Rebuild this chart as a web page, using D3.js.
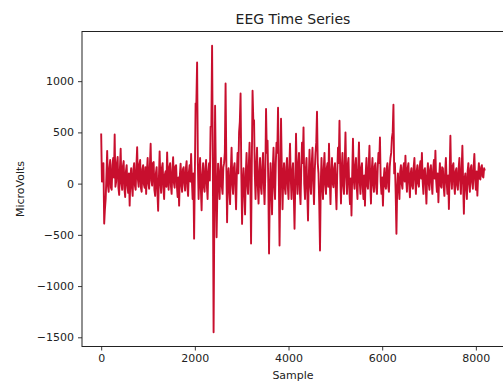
<!DOCTYPE html>
<html>
<head>
<meta charset="utf-8">
<script src="https://cdn.jsdelivr.net/npm/d3@7"></script>
<style>
  html, body { margin: 0; padding: 0; background: #fff; }
  svg { display: block; }
  text { font-family: "DejaVu Sans", sans-serif; fill: #222; }
</style>
</head>
<body>
<svg id="chart" width="503" height="381"></svg>
<script>
// ---- data ----
const title = "EEG Time Series";
const xLabel = "Sample";
const yLabel = "MicroVolts";
const sampleStep = 16;        // one reading every 16 samples
const lastSample = 8191;
const microvolts = [
  490, 20, 100, 200, -390, -250, -150, 80, 320, -20, -80, 150, 230, -40, -60, 180, 250, 60, 480, -30,
  20, 200, 260, -40, -110, 150, 340, 0, -60, 170, 220, -50, -130, 120, 180, -20, -90, 100, -215, 60,
  150, -30, -120, 140, 200, -20, -60, 170, 355, 40, -30, 190, 230, -40, -80, 140, 180, -10, -40, 160,
  -100, 120, 250, 0, -50, 180, 390, 30, -20, 200, 210, -60, -120, 100, 160, -80, -265, 50, 315, 20,
  -90, 150, 200, -40, -150, 90, 120, -30, 305, 50, -60, 160, 200, -20, -100, 130, 257, 10, -40, 170,
  180, -20, -130, 60, -215, 80, 195, -10, -80, 140, 160, 0, -68, 150, 220, -30, -120, 110, 180, 20,
  290, 40, -150, 100, -537, 100, 783, 790, 1183, 200, -150, 100, 250, -50, -260, 80, 200, -30, -80, 150,
  230, -20, -150, 120, 200, 30, 555, 560, 1345, 200, -1450, -300, 760, 100, -523, -100, 195, 20, -150, 130,
  250, -30, -100, 160, 200, 300, 978, 200, -377, 50, 150, -60, -200, 120, 350, 0, -100, 150, 200, -20,
  -250, 100, 300, 100, 500, 600, 880, 100, -393, 0, 150, -80, -300, 100, 300, 0, -100, 180, 400, 50,
  -585, 200, 907, 620, 620, 100, -150, 150, 350, -20, -195, 100, 250, -30, -100, 160, 300, 0, -200, 80,
  730, 300, 420, 0, -683, -100, 200, -50, -300, 150, 350, -20, -150, 200, 400, 300, 740, 100, -605, 0,
  634, 150, -250, 80, 200, -40, -100, 160, 250, -20, -150, 150, 390, 50, -150, 120, 200, -100, -440, 0,
  487, 100, -100, 180, 300, -60, -200, 150, 400, 200, 549, 0, -150, 130, 250, -80, -360, 50, 330, 0,
  -100, 200, 350, 20, -200, 120, 300, 400, 702, 200, 100, -200, -653, 0, 250, -20, -150, 150, 300, -10,
  -100, 150, 200, -30, 390, 50, -200, 100, 250, 0, -36, 150, 200, -60, -250, 100, 350, 200, 614, 100,
  -195, 150, 300, -20, -100, 200, 500, 80, -100, 180, 250, -40, -200, 50, -312, 100, 439, 40, -50, 170,
  250, -30, -150, 150, 403, 20, -100, 150, 200, -40, -150, 80, -215, 100, 250, -20, -50, 180, 370, 30,
  -195, 120, 250, -10, -80, 170, 200, -40, -100, 150, 300, 200, 451, 20, -100, 60, -215, 50, 150, -20,
  -50, 150, 200, -30, -80, 160, 250, 300, 450, 500, 770, 100, 200, -100, -490, -50, 100, -30, -150, 120,
  180, 0, -50, 150, 200, 20, 273, 50, -80, 150, 200, 0, -133, 100, 150, -20, -50, 160, 250, 30,
  -100, 120, 180, 0, -30, 160, 220, 50, 300, 20, -100, 130, 150, -10, -195, 80, 200, 10, -60, 140,
  180, 0, -100, 140, 230, 50, 322, 30, -80, 100, -182, 60, 200, -20, -40, 160, 150, -30, -120, 110,
  250, 20, -100, 80, -247, 100, 468, 60, -50, 170, 200, -10, -100, 120, 150, -20, -60, 150, 250, 30,
  -100, 140, 370, 0, -295, 50, 100, -40, -150, 120, 200, 0, -80, 150, 180, 10, -50, 160, 290, 40,
  -60, 120, -117, 80, 200, 50, 40, 160, 180, 70, 60, 150, 127
];
const xTicks = [0, 2000, 4000, 6000, 8000];
const yTicks = [-1500, -1000, -500, 0, 500, 1000];

// ---- layout ----
const svg = d3.select("#chart");
const mLeft = 82, mRight = 504, mTop = 31.5, mBottom = 346.5;
const lineColor = "#c80f2e";

const points = microvolts.map((v, i) => ({
  s: i === microvolts.length - 1 ? lastSample : i * sampleStep,
  v
}));

const xMin = 0, xMax = lastSample;
const xPad = (xMax - xMin) * 0.05;
const vMin = d3.min(microvolts), vMax = d3.max(microvolts);
const yPad = (vMax - vMin) * 0.05;

const x = d3.scaleLinear().domain([xMin - xPad, xMax + xPad]).range([mLeft, mRight]);
const y = d3.scaleLinear().domain([vMin - yPad, vMax + yPad]).range([mBottom, mTop]);

const minus = s => s.replace("-", "\u2212");

// line
svg.append("path")
  .datum(points)
  .attr("fill", "none")
  .attr("stroke", lineColor)
  .attr("stroke-width", 1.9)
  .attr("stroke-linejoin", "round")
  .attr("d", d3.line().x(d => x(d.s)).y(d => y(d.v)));

// axes
const xAxis = d3.axisBottom(x).tickValues(xTicks).tickSize(4).tickPadding(4)
  .tickFormat(d => minus(d3.format("d")(d)));
const yAxis = d3.axisLeft(y).tickValues(yTicks).tickSize(4).tickPadding(4)
  .tickFormat(d => minus(d3.format("d")(d)));

const gx = svg.append("g").attr("transform", `translate(0,${mBottom})`).call(xAxis);
const gy = svg.append("g").attr("transform", `translate(${mLeft},0)`).call(yAxis);
[gx, gy].forEach(g => {
  g.select(".domain").remove();
  g.selectAll(".tick line").attr("stroke", "#222").attr("stroke-width", 0.9);
  g.selectAll(".tick text").attr("font-size", 11).attr("font-family", "DejaVu Sans, sans-serif").attr("fill", "#222");
});

// frame
svg.append("rect")
  .attr("x", mLeft).attr("y", mTop)
  .attr("width", mRight - mLeft).attr("height", mBottom - mTop)
  .attr("fill", "none").attr("stroke", "#222").attr("stroke-width", 1);

// title & labels
const cx = (mLeft + mRight) / 2;
svg.append("text").attr("x", cx).attr("y", 24)
  .attr("text-anchor", "middle").attr("font-size", 14).text(title);
svg.append("text").attr("x", cx).attr("y", 379)
  .attr("text-anchor", "middle").attr("font-size", 11).text(xLabel);
svg.append("text")
  .attr("transform", `translate(24,${(mTop + mBottom) / 2}) rotate(-90)`)
  .attr("text-anchor", "middle").attr("font-size", 11).text(yLabel);
</script>
</body>
</html>
